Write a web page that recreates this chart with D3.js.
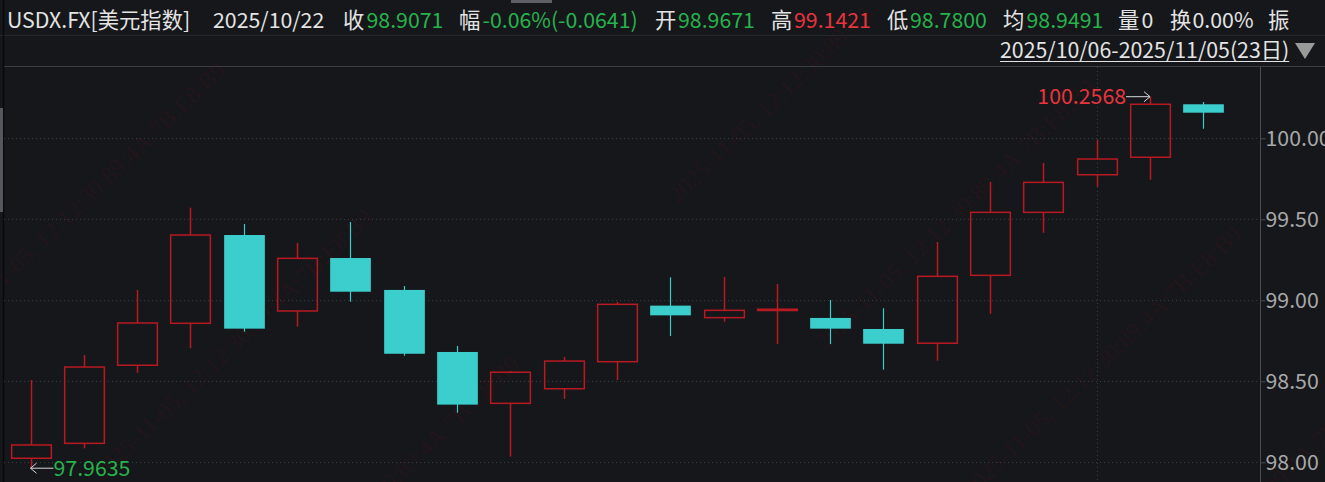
<!DOCTYPE html>
<html><head><meta charset="utf-8">
<script src="https://cdn.jsdelivr.net/npm/d3@7"></script>
<style>html,body{margin:0;padding:0;background:#15171b;overflow:hidden}svg{display:block}</style>
</head><body>
<svg id="c" width="1325" height="482"></svg>
<script>
// ---- data ----
const dates  = ["10/06","10/07","10/08","10/09","10/10","10/13","10/14","10/15","10/16","10/17","10/20","10/21","10/22","10/23","10/24","10/27","10/28","10/29","10/30","10/31","11/03","11/04","11/05"];
const opens  = [98.025,98.117,98.599,98.858,99.403,98.934,99.261,99.064,98.681,98.364,98.454,98.621,98.9671,98.893,98.937,98.891,98.823,98.735,99.154,99.543,99.775,99.883,100.210];
const highs  = [98.508,98.662,99.064,99.572,99.471,99.354,99.483,99.088,98.718,98.564,98.650,98.990,99.1421,99.144,99.101,99.002,98.951,99.360,99.730,99.848,99.990,100.2568,100.224];
const lows   = [97.9635,98.086,98.553,98.704,98.806,98.837,98.991,98.658,98.306,98.035,98.391,98.508,98.7800,98.868,98.730,98.730,98.572,98.627,98.917,99.417,99.701,99.744,100.059];
const closes = [98.107,98.588,98.860,99.403,98.825,99.259,99.053,98.670,98.356,98.556,98.625,98.975,98.9071,98.938,98.945,98.825,98.732,99.148,99.543,99.728,99.872,100.210,100.158];
const yTicks = [98.00, 98.50, 99.00, 99.50, 100.00];
const headerLabels = ["收","幅","开","高","低","均","量","换","振"];
const headerValues = ["98.9071","-0.06%(-0.0641)","98.9671","99.1421","98.7800","98.9491","0","0.00%",""];
const headerKinds  = ["down","down","down","up","down","down","plain","plain","plain"];
const title = "USDX.FX[美元指数]";
const curDate = "2025/10/22";
const rangeText = "2025/10/06-2025/11/05(23日)";
const maxText = "100.2568", minText = "97.9635";
const watermark = "2025-11-05, 12:12:30:89:4A:7B:E8:B9";

// ---- style ----
const C = {bg:"#15171b", up:"#b81a22", down:"#3ccdcd", txt:"#e4e4e4", green:"#27b34b", red:"#e8353d",
           grid:"#3a3d43", axis:"#4a4c52", tick:"#a8a8a8"};
const FONT = "'Microsoft YaHei','Noto Sans CJK SC','Noto Sans',sans-serif";
const FS = 21.3;

const W=1325, H=482;
const svg = d3.select("#c");
svg.append("rect").attr("width",W).attr("height",H).attr("fill",C.bg);

const data = dates.map((d,i)=>({d,o:opens[i],h:highs[i],l:lows[i],c:closes[i]}));
const x = d3.scalePoint().domain(dates).range([3.85,1230]).padding(0.5);
const step = x.step();
const bw = step*0.745;
const y = d3.scaleLinear().domain([98,100]).range([462.3,138.3]);

// watermark
const wm = svg.append("g").attr("fill","#221619").attr("font-family","'Liberation Serif',serif").attr("font-size",24);
for(let m=-4;m<=6;m++) for(let n=-2;n<=4;n++){
  const ex = 227 + m*147 + n*428, ey = 72 + m*147 - n*424;
  if(ex<-100||ex>1700||ey<-100||ey>900) continue;
  wm.append("text").attr("text-anchor","end")
    .attr("transform",`translate(${ex},${ey}) rotate(-44)`).text(watermark);
}

// header lines
svg.append("line").attr("x1",0).attr("x2",W).attr("y1",35.5).attr("y2",35.5).attr("stroke","#26282d");
svg.append("line").attr("x1",3).attr("x2",W).attr("y1",66.5).attr("y2",66.5).attr("stroke","#3c3e44");
svg.append("rect").attr("x",511).attr("y",0).attr("width",41).attr("height",3).attr("fill","#5e6068");
// left border
svg.append("line").attr("x1",3.5).attr("x2",3.5).attr("y1",0).attr("y2",H).attr("stroke","#08090b").attr("stroke-width",1.5);
svg.append("rect").attr("x",0).attr("y",108).attr("width",3).attr("height",104).attr("fill","#55575e");

// grid
const gridG = svg.append("g");
gridG.selectAll("line.h").data(yTicks).join("line")
  .attr("x1",4).attr("x2",1260).attr("y1",d=>Math.round(y(d))+0.5).attr("y2",d=>Math.round(y(d))+0.5)
  .attr("stroke",C.grid).attr("stroke-dasharray","1,3");
gridG.append("line").attr("x1",Math.round(x("11/03"))+0.5).attr("x2",Math.round(x("11/03"))+0.5)
  .attr("y1",67).attr("y2",H).attr("stroke",C.grid).attr("stroke-dasharray","1,3");

// axis
svg.append("line").attr("x1",1260.5).attr("x2",1260.5).attr("y1",67).attr("y2",H).attr("stroke",C.axis);
const ax = svg.append("g").attr("transform","translate(1260.5,0)")
  .call(d3.axisRight(y).tickValues(yTicks).tickFormat(d3.format(".2f")).tickSize(5).tickPadding(0));
ax.select(".domain").remove();
ax.selectAll(".tick line").attr("stroke",C.axis);
ax.selectAll(".tick text").attr("fill",C.tick).attr("font-size",FS).attr("font-family",FONT).attr("dy","0.34em");

// candles
const cg = svg.append("g");
data.forEach(k=>{
  const cx = Math.round(x(k.d))+0.5;
  const up = k.c >= k.o;
  const top = y(Math.max(k.o,k.c)), bot = y(Math.min(k.o,k.c));
  if(up){
    cg.append("line").attr("x1",cx).attr("x2",cx).attr("y1",y(k.h)).attr("y2",top).attr("stroke",C.up).attr("stroke-width",1.5);
    cg.append("line").attr("x1",cx).attr("x2",cx).attr("y1",bot).attr("y2",y(k.l)).attr("stroke",C.up).attr("stroke-width",1.5);
    cg.append("rect").attr("x",cx-bw/2).attr("y",top).attr("width",bw).attr("height",Math.max(bot-top,1))
      .attr("fill",bot-top<2?C.up:"none").attr("stroke",C.up).attr("stroke-width",1.5);
  } else {
    cg.append("line").attr("x1",cx).attr("x2",cx).attr("y1",y(k.h)).attr("y2",y(k.l)).attr("stroke",C.down).attr("stroke-width",1.2);
    cg.append("rect").attr("x",cx-bw/2-0.5).attr("y",top).attr("width",bw+1).attr("height",Math.max(bot-top,1)).attr("fill",C.down);
  }
});

// max / min annotations
const iMax = d3.maxIndex(highs), iMin = d3.minIndex(lows);
const mx = x(dates[iMax]), my = y(highs[iMax]);
const ag = svg.append("g").attr("stroke","#d8d8d8").attr("stroke-width",1).attr("fill","none");
ag.append("line").attr("x1",mx-24).attr("x2",mx).attr("y1",my).attr("y2",my);
ag.append("path").attr("d",`M${mx-6},${my-5}L${mx},${my}L${mx-6},${my+5}`);
svg.append("text").attr("x",mx-24).attr("y",my).attr("dy","0.35em").attr("text-anchor","end")
  .attr("fill",C.red).attr("font-size",FS).attr("font-family",FONT).text(maxText);
const nx = x(dates[iMin]), ny = y(lows[iMin]);
ag.append("line").attr("x1",nx).attr("x2",nx+23).attr("y1",ny).attr("y2",ny);
ag.append("path").attr("d",`M${nx+6},${ny-5}L${nx},${ny}L${nx+6},${ny+5}`);
svg.append("text").attr("x",nx+23).attr("y",ny).attr("dy","0.35em")
  .attr("fill",C.green).attr("font-size",FS).attr("font-family",FONT).text(minText);

// header
const hg = svg.append("g").attr("font-size",FS).attr("font-family",FONT);
hg.append("text").attr("x",7).attr("y",27.5).attr("fill",C.txt).text(title);
hg.append("text").attr("x",213).attr("y",27.5).attr("fill",C.txt).text(curDate);
const labelX = [343,459,655,771,887,1003,1118,1170,1268];
const valueX = [366.5,482.5,678,794,910,1026.5,1141.5,1192.5,0];
headerLabels.forEach((l,i)=>{
  hg.append("text").attr("x",labelX[i]).attr("y",27.5).attr("fill",C.txt).text(l);
  if(headerValues[i]) hg.append("text").attr("x",valueX[i]).attr("y",27.5)
    .attr("fill",headerKinds[i]==="up"?C.red:headerKinds[i]==="down"?C.green:C.txt).text(headerValues[i]);
});
const rt = hg.append("text").attr("x",1000).attr("y",58).attr("fill",C.txt).text(rangeText);
const bb = rt.node().getBBox();
svg.append("line").attr("x1",1000).attr("x2",bb.x+bb.width).attr("y1",61.5).attr("y2",61.5).attr("stroke",C.txt);
svg.append("path").attr("d",`M1295,43L1315,43L1305,59Z`).attr("fill","#9a9a9a");
</script>
</body></html>
